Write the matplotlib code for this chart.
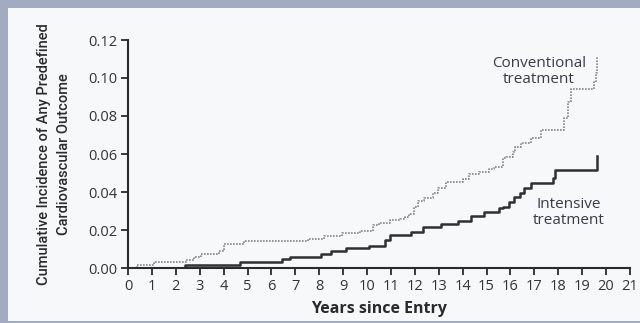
import matplotlib
matplotlib.use("Agg")
import matplotlib.pyplot as plt
from matplotlib.patches import Rectangle
from matplotlib import font_manager

# Cumulative incidence step data (years since entry, cumulative incidence)
conv_years = [0, 0.36, 1.1, 2.43, 2.78, 3.04, 3.8, 4.02, 4.85, 7.55, 8.2, 8.96,
              9.69, 10.24, 10.52, 10.94, 11.36, 11.57, 11.77, 11.98, 12.12, 12.4,
              12.75, 12.96, 13.3, 14.0, 14.28, 14.7, 15.12, 15.32, 15.67, 15.81,
              16.09, 16.2, 16.44, 16.86, 17.27, 18.25, 18.39, 18.52, 19.5, 19.57, 19.64]
conv_values = [0, 0.0014, 0.0032, 0.0044, 0.006, 0.0073, 0.009, 0.0128, 0.0142,
               0.0152, 0.0166, 0.0182, 0.0194, 0.0226, 0.0235, 0.0253, 0.026, 0.0267,
               0.0285, 0.0323, 0.0353, 0.0367, 0.0393, 0.042, 0.0454, 0.0467, 0.0493,
               0.0507, 0.052, 0.0533, 0.0577, 0.0586, 0.0612, 0.0635, 0.0656, 0.0682,
               0.0726, 0.0788, 0.0875, 0.094, 0.098, 0.1025, 0.111]

int_years = [0, 2.38, 4.7, 6.43, 6.78, 8.09, 8.5, 9.13, 10.08, 10.75, 10.94, 11.85,
             12.33, 13.1, 13.79, 14.35, 14.9, 15.53, 15.67, 15.95, 16.16, 16.4,
             16.58, 16.86, 17.76, 17.87, 19.61]
int_values = [0, 0.0014, 0.003, 0.0046, 0.006, 0.0075, 0.009, 0.0104, 0.0118,
              0.0147, 0.0174, 0.0188, 0.0214, 0.0232, 0.0247, 0.0274, 0.0296, 0.0314,
              0.0323, 0.035, 0.0376, 0.0393, 0.042, 0.0449, 0.0472, 0.0516, 0.0591]

x_ticks = list(range(0, 22))
y_ticks = [0.00, 0.02, 0.04, 0.06, 0.08, 0.10, 0.12]
y_tick_labels = ["0.00", "0.02", "0.04", "0.06", "0.08", "0.10", "0.12"]

names = {f.name for f in font_manager.fontManager.ttflist}
main_font = "Open Sans" if "Open Sans" in names else "DejaVu Sans"
narrow_font = "Roboto" if "Roboto" in names else main_font

W, H = 640, 323
fig = plt.figure(figsize=(W / 100, H / 100), dpi=100)
bg = "#f7f8fa"
fig.patch.set_facecolor(bg)

# Frame bands along the top, left and bottom edges
frame = "#a3abc2"
fig.patches.append(Rectangle((0, 1 - 8 / H), 1, 8 / H, transform=fig.transFigure,
                             facecolor=frame, edgecolor="none", zorder=0))
fig.patches.append(Rectangle((0, 0), 8 / W, 1, transform=fig.transFigure,
                             facecolor=frame, edgecolor="none", zorder=0))
fig.patches.append(Rectangle((0, 0), 1, 2 / H, transform=fig.transFigure,
                             facecolor=frame, edgecolor="none", zorder=0))

left, right = 128 / W, 630 / W
bottom, top = (H - 268) / H, (H - 40) / H
ax = fig.add_axes([left, bottom, right - left, top - bottom])
ax.set_facecolor(bg)

ax.step(conv_years, conv_values, where="post", color="#858585",
        linestyle=(0, (1, 0.8)), linewidth=1.2)
ax.step(int_years, int_values, where="post", color="#303030",
        linestyle="-", linewidth=1.8)

ax.set_xlim(0, 21)
ax.set_ylim(0, 0.12)
ax.set_xticks(x_ticks)
ax.set_xticklabels([str(t) for t in x_ticks])
ax.set_yticks(y_ticks)
ax.set_yticklabels(y_tick_labels)

for s in ["top", "right"]:
    ax.spines[s].set_visible(False)
for s in ["left", "bottom"]:
    ax.spines[s].set_linewidth(1.5)
    ax.spines[s].set_color("#2a2a2a")

ax.tick_params(axis="both", direction="out", length=5, width=1.3, color="#2a2a2a",
               labelcolor="#333333", labelsize=10.5, pad=3)
for lbl in ax.get_xticklabels() + ax.get_yticklabels():
    lbl.set_fontfamily(main_font)

ax.set_xlabel("Years since Entry", fontfamily=main_font, fontweight="bold",
              fontsize=11.5, color="#2a2a2a", labelpad=5)
ax.set_ylabel("Cumulative Incidence of Any Predefined\nCardiovascular Outcome",
              fontfamily=narrow_font, fontweight="medium", fontsize=10.5,
              color="#2a2a2a", linespacing=1.55, labelpad=12)

ax.text(17.2, 0.1035, "Conventional\ntreatment", ha="center", va="center",
        fontfamily=main_font, fontsize=11, color="#3a3a4a", linespacing=1.1)
ax.text(18.45, 0.0292, "Intensive\ntreatment", ha="center", va="center",
        fontfamily=main_font, fontsize=11, color="#3a3a4a", linespacing=1.1)

fig.savefig("out.png", dpi=100, facecolor=fig.get_facecolor())
